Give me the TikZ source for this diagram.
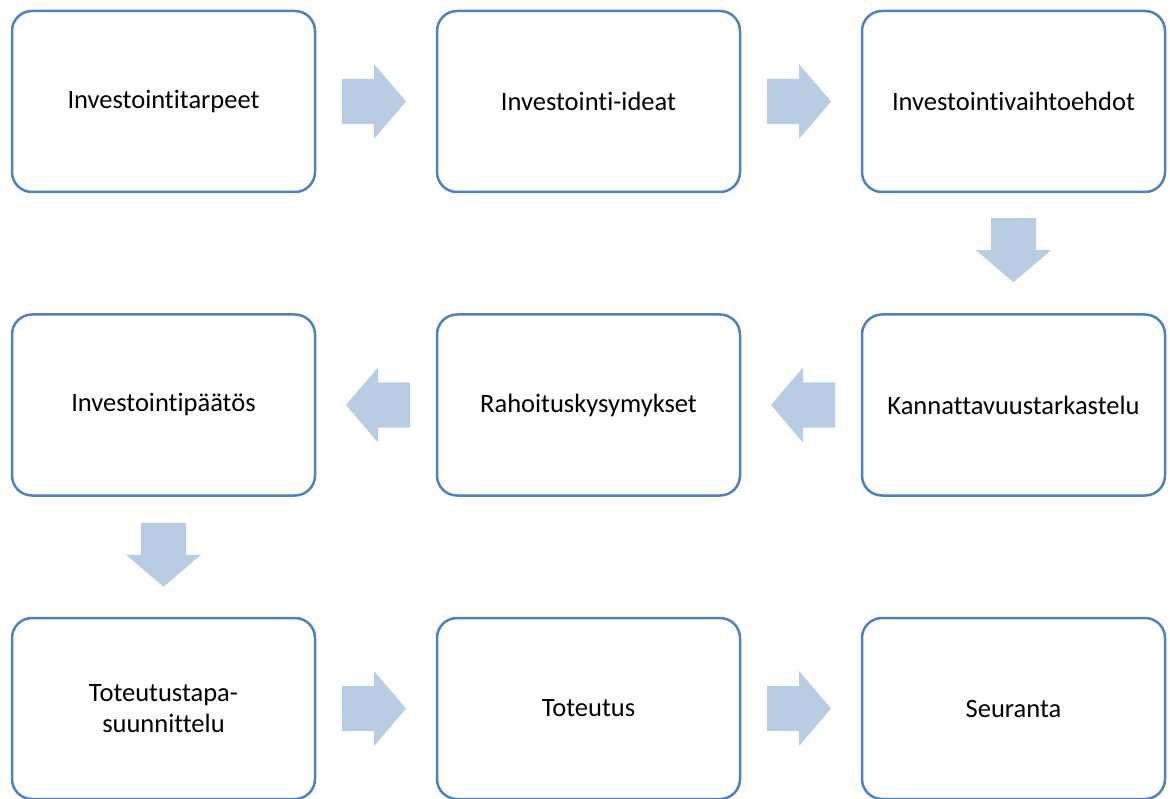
\documentclass[tikz,border=0pt]{standalone}
\usepackage{fontspec}
\setmainfont{Carlito}[Ligatures=NoCommon]
\usetikzlibrary{calc}
\definecolor{boxline}{RGB}{79,129,189}
\definecolor{arrowfill}{RGB}{184,204,228}
\tikzset{
  stagebox/.style={draw=boxline, line width=2.5pt, rounded corners=20pt, fill=white,
    minimum width=303pt, minimum height=181pt, align=center, text=black,
    font=\fontsize{26.5}{31}\selectfont, inner sep=0pt},
  blockarrow/.style={fill=arrowfill, draw=none}
}
\newcommand{\blockarr}[2]{% center, rotation
  \fill[blockarrow, shift={(#1)}, rotate=#2] (-32,-22.5) -- (0,-22.5) -- (0,-37.5) -- (32,0) -- (0,37.5) -- (0,22.5) -- (-32,22.5) -- cycle;
}
\begin{document}
\begin{tikzpicture}[x=1pt,y=-1pt]
\useasboundingbox (0,0) rectangle (1170,799);
\node[stagebox] (a) at (163.5,101.5) {Investointitarpeet};
\node[stagebox] (b) at (588.5,101.5) {Investointi-ideat};
\node[stagebox] (c) at (1013.5,101.5) {Investointivaihtoehdot};
\node[stagebox] (d) at (1013.5,405) {Kannattavuustarkastelu};
\node[stagebox] (e) at (588.5,405) {Rahoituskysymykset};
\node[stagebox] (f) at (163.5,405) {Investointipäätös};
\node[stagebox] (g) at (163.5,708.5) {Toteutustapa-\\suunnittelu};
\node[stagebox] (h) at (588.5,708.5) {Toteutus};
\node[stagebox] (i) at (1013.5,708.5) {Seuranta};
% arrows
\coordinate (ab) at ($(a.center)!0.5!(b.center)+(-2,0)$);
\coordinate (bc) at ($(b.center)!0.5!(c.center)+(-2,0)$);
\coordinate (cd) at ($(c.center)!0.5!(d.center)+(0,-3)$);
\coordinate (de) at ($(d.center)!0.5!(e.center)+(2,0)$);
\coordinate (ef) at ($(e.center)!0.5!(f.center)+(2,0)$);
\coordinate (fg) at ($(f.center)!0.5!(g.center)+(0,-2)$);
\coordinate (gh) at ($(g.center)!0.5!(h.center)+(-2,0)$);
\coordinate (hi) at ($(h.center)!0.5!(i.center)+(-2,0)$);
\blockarr{ab}{0}
\blockarr{bc}{0}
\blockarr{cd}{-90}
\blockarr{de}{180}
\blockarr{ef}{180}
\blockarr{fg}{-90}
\blockarr{gh}{0}
\blockarr{hi}{0}
\end{tikzpicture}
\end{document}
